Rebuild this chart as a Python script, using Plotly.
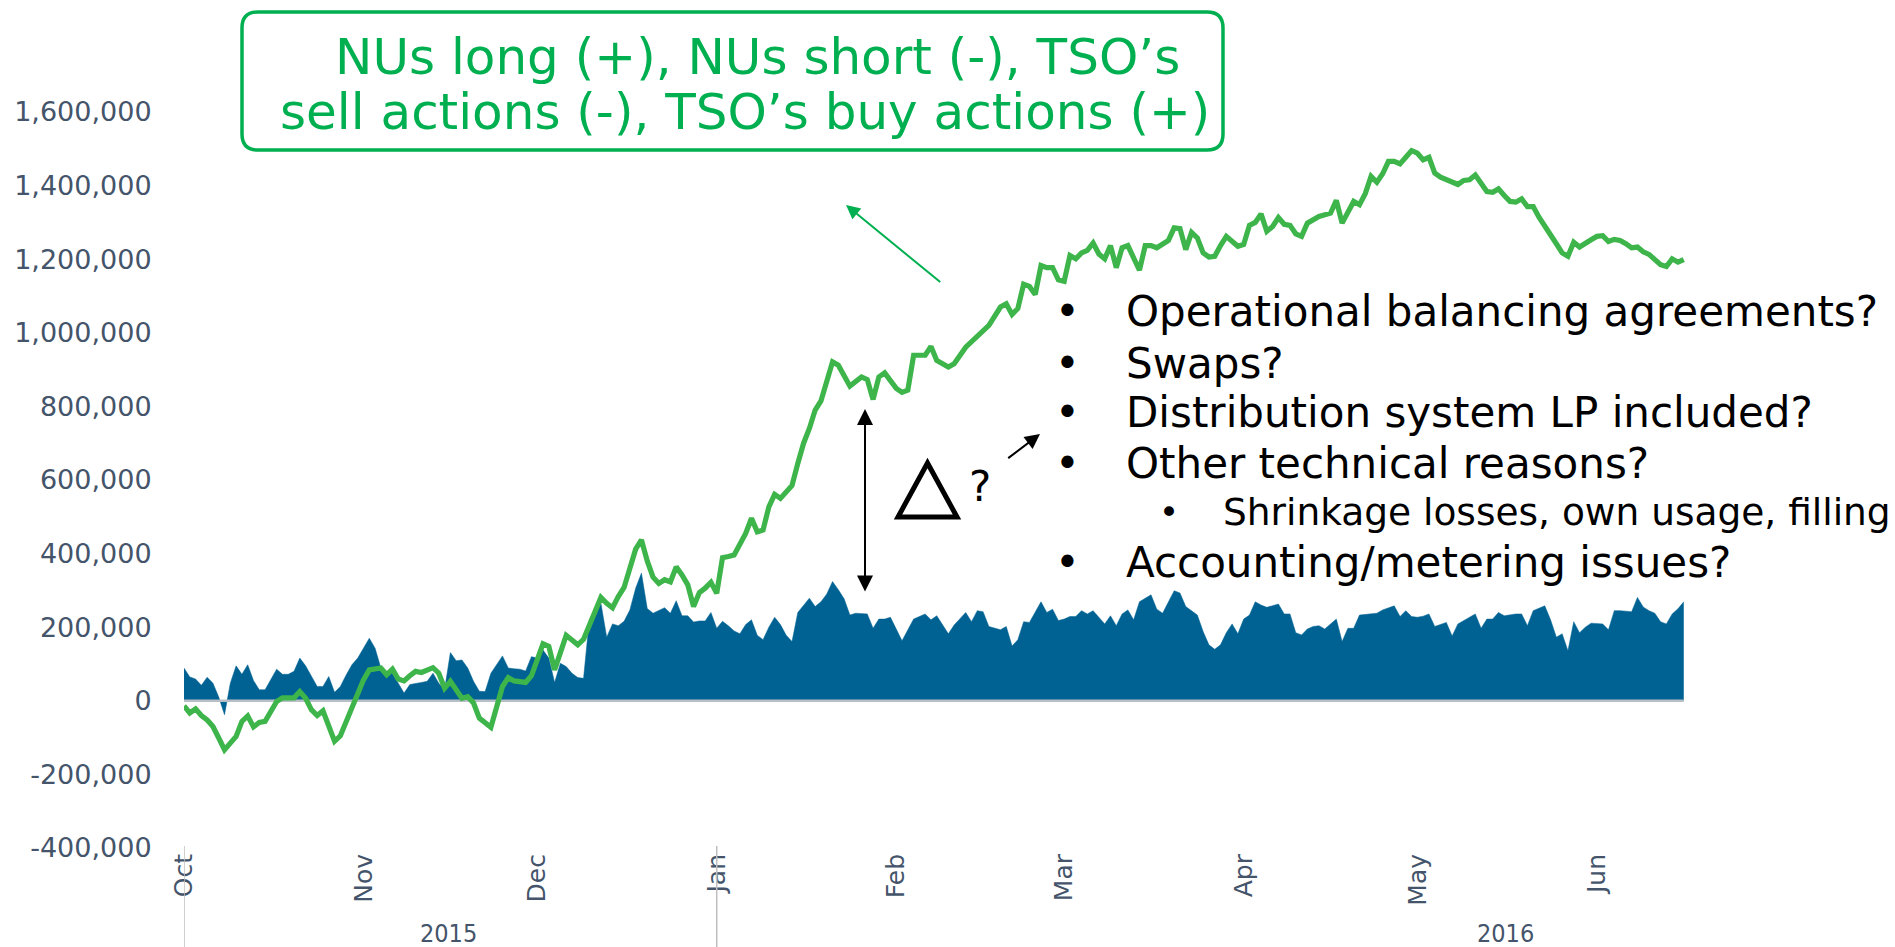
import pandas as pd
import plotly.graph_objects as go

# ---- data: daily balances (thousand units), day offsets from 1 Oct 2015 ----
start_date = pd.Timestamp("2015-10-01")

green_day = [0, 1, 2, 3, 4, 5, 6, 7, 8, 9, 10, 11, 12, 13, 14, 15, 16, 17, 19, 20,
             21, 22, 23, 24, 25, 26, 27, 28, 30, 31, 32, 34, 35, 36, 37, 38, 39, 40, 41, 43,
             44, 45, 46, 47, 48, 49, 50, 51, 53, 55, 56, 57, 59, 60, 61, 62, 63, 64, 66, 68,
             69, 70, 72, 73, 74, 75, 76, 78, 79, 80, 81, 82, 83, 84, 85, 86, 87, 88, 89, 90,
             91, 92, 93, 94, 95, 97, 98, 99, 100, 101, 102, 103, 104, 105, 106, 107, 108, 109, 110, 111,
             112, 113, 115, 117, 118, 119, 120, 121, 123, 124, 125, 126, 128, 129, 130, 132, 133, 135, 136, 138,
             139, 141, 142, 143, 144, 145, 146, 147, 148, 149, 150, 151, 152, 153, 154, 155, 156, 157, 158, 159,
             160, 161, 162, 163, 164, 165, 166, 167, 168, 170, 171, 172, 173, 174, 175, 176, 177, 178, 179, 180,
             182, 183, 184, 185, 186, 187, 188, 189, 190, 191, 192, 193, 194, 195, 196, 198, 199, 200, 201, 202,
             203, 204, 205, 206, 207, 208, 209, 210, 211, 212, 213, 214, 215, 216, 217, 218, 219, 220, 221, 222,
             223, 224, 225, 226, 227, 228, 229, 230, 231, 232, 233, 234, 235, 236, 237, 238, 239, 240, 241, 243,
             244, 245, 246, 247, 248, 249, 250, 251, 252, 253, 254, 255, 256, 257, 258, 259]
green_val = [-14, -33, -22, -40, -52, -70, -101, -133, -115, -97, -56, -41, -71, -59, -56, -29, -2, 8, 8, 25,
             7, -24, -40, -27, -70, -110, -95, -56, 16, 57, 84, 89, 71, 86, 59, 54, 68, 80, 77, 90,
             75, 34, 53, 28, 7, 11, -6, -47, -72, 39, 63, 54, 50, 68, 110, 155, 148, 84, 178, 152,
             167, 205, 281, 265, 253, 283, 308, 412, 437, 380, 336, 319, 329, 323, 364, 342, 315, 256, 294, 306,
             322, 292, 389, 392, 396, 455, 496, 459, 464, 527, 561, 550, 570, 585, 645, 700, 740, 790, 815, 870,
             921, 912, 855, 880, 873, 819, 880, 891, 849, 838, 844, 939, 939, 963, 925, 907, 916, 961, 975, 1002,
             1020, 1070, 1079, 1050, 1066, 1132, 1126, 1104, 1183, 1177, 1177, 1144, 1140, 1210, 1201, 1217, 1224, 1244, 1214, 1201,
             1237, 1177, 1231, 1237, 1204, 1170, 1237, 1237, 1231, 1251, 1285, 1283, 1226, 1273, 1258, 1217, 1206, 1208, 1237, 1262,
             1235, 1240, 1292, 1300, 1323, 1276, 1289, 1313, 1295, 1292, 1269, 1262, 1298, 1307, 1316, 1325, 1360, 1298, 1328, 1357,
             1348, 1378, 1425, 1409, 1432, 1466, 1466, 1459, 1477, 1495, 1488, 1470, 1477, 1434, 1423, 1416, 1410, 1403, 1414, 1416,
             1429, 1405, 1384, 1382, 1391, 1373, 1357, 1355, 1364, 1343, 1343, 1314, 1292, 1269, 1242, 1217, 1208, 1246, 1233, 1253,
             1262, 1264, 1248, 1254, 1251, 1242, 1231, 1233, 1220, 1213, 1199, 1185, 1180, 1201, 1192, 1199]

blue_day = [0, 1, 2, 3, 4, 5, 6, 7, 8, 9, 10, 11, 12, 13, 14, 15, 16, 17, 18, 19,
            20, 21, 22, 23, 24, 25, 26, 27, 28, 29, 30, 31, 32, 33, 34, 35, 36, 37, 38, 39,
            40, 41, 42, 43, 44, 45, 46, 47, 48, 49, 50, 51, 52, 53, 55, 56, 57, 58, 59, 60,
            61, 62, 63, 64, 65, 66, 67, 68, 69, 70, 71, 72, 73, 74, 75, 76, 77, 78, 79, 80,
            81, 82, 83, 84, 85, 86, 87, 88, 89, 90, 91, 92, 93, 94, 95, 96, 97, 98, 99, 100,
            101, 102, 103, 104, 105, 106, 108, 109, 110, 111, 112, 113, 114, 115, 116, 118, 119, 120, 121, 122,
            124, 126, 127, 128, 129, 130, 132, 133, 135, 136, 137, 138, 139, 141, 142, 143, 144, 145, 146, 148,
            149, 150, 151, 152, 153, 154, 155, 156, 157, 159, 160, 161, 162, 163, 164, 165, 167, 168, 169, 170,
            171, 172, 173, 175, 176, 177, 178, 179, 180, 181, 182, 183, 184, 185, 186, 187, 188, 189, 190, 191,
            192, 193, 194, 195, 196, 197, 199, 200, 201, 202, 203, 204, 205, 206, 207, 209, 210, 211, 212, 213,
            214, 215, 216, 218, 219, 220, 223, 224, 225, 226, 227, 228, 230, 231, 232, 233, 235, 236, 237, 238,
            239, 240, 241, 242, 243, 245, 246, 247, 248, 250, 251, 252, 253, 254, 255, 256, 257, 258, 259]
blue_val = [89, 65, 59, 42, 64, 48, 10, -38, 48, 95, 72, 98, 55, 30, 30, 57, 86, 72, 72, 80,
            116, 95, 66, 39, 39, 66, 23, 39, 70, 98, 116, 143, 170, 143, 89, 80, 75, 48, 21, 44,
            46, 50, 53, 75, 48, 30, 131, 109, 111, 89, 53, 26, 25, 75, 122, 89, 87, 86, 81, 120,
            116, 138, 116, 50, 102, 93, 75, 63, 61, 220, 247, 265, 173, 209, 204, 216, 247, 306, 347, 251,
            238, 245, 253, 238, 272, 231, 231, 214, 217, 217, 240, 197, 216, 204, 190, 182, 207, 220, 178, 166,
            200, 227, 207, 178, 161, 240, 279, 256, 269, 290, 324, 302, 277, 233, 238, 236, 197, 222, 222, 227,
            163, 222, 229, 236, 220, 231, 182, 206, 240, 215, 245, 242, 202, 193, 202, 149, 166, 215, 213, 269,
            240, 249, 218, 222, 229, 229, 245, 236, 245, 209, 231, 204, 236, 247, 220, 269, 288, 249, 238, 270,
            299, 293, 256, 233, 188, 152, 140, 152, 185, 209, 182, 222, 233, 269, 260, 254, 258, 263, 236, 236,
            185, 179, 195, 202, 204, 195, 222, 161, 197, 197, 233, 235, 238, 238, 247, 258, 229, 245, 229, 227,
            230, 236, 202, 213, 176, 209, 236, 197, 222, 222, 240, 231, 236, 236, 204, 245, 258, 220, 173, 182,
            136, 215, 185, 200, 211, 209, 193, 245, 245, 242, 281, 255, 245, 238, 215, 209, 236, 250, 269]

month_ticks = ["2015-10-01", "2015-11-01", "2015-12-01", "2016-01-01", "2016-02-01",
               "2016-03-01", "2016-04-01", "2016-05-01", "2016-06-01"]
month_labels = ["Oct", "Nov", "Dec", "Jan", "Feb", "Mar", "Apr", "May", "Jun"]
year_labels = ["2015", "2016"]
year_breaks = ["2015-10-01", "2016-01-01"]

y_tick_vals = [-400000, -200000, 0, 200000, 400000, 600000, 800000,
               1000000, 1200000, 1400000, 1600000]
y_tick_text = ["-400,000", "-200,000", "0", "200,000", "400,000", "600,000", "800,000",
               "1,000,000", "1,200,000", "1,400,000", "1,600,000"]

box_lines = ["NUs long (+), NUs short (-), TSO\u2019s",
             "sell actions (-), TSO\u2019s buy actions (+)"]
bullet_items = ["Operational balancing agreements?", "Swaps?",
                "Distribution system LP included?", "Other technical reasons?",
                "Shrinkage losses, own usage, filling", "Accounting/metering issues?"]
bullet_level = [0, 0, 0, 0, 1, 0]

# ---- styling ----
W, H = 1895, 947
ML, MR, MT, MB = 184, 30, 112, 99
PL, PR, PT, PB = ML, W - MR, MT, H - MB
AXIS_COL = "#44546A"
GREEN_TXT = "#00B050"
GREEN_LINE = "#3DB54A"
BLUE = "#006293"
FONT = "DejaVu Sans"


def px(x):
    return (x - PL) / (PR - PL)


def py(y):
    return (PB - y) / (PB - PT)


green_x = start_date + pd.to_timedelta(green_day, unit="D")
blue_x = start_date + pd.to_timedelta(blue_day, unit="D")
green_y = [v * 1000 for v in green_val]
blue_y = [v * 1000 for v in blue_val]

fig = go.Figure()
fig.add_trace(go.Scatter(x=blue_x, y=blue_y, mode="lines", fill="tozeroy",
                         fillcolor=BLUE, line=dict(color=BLUE, width=0.5),
                         hoverinfo="skip", showlegend=False))
fig.add_trace(go.Scatter(x=[blue_x[0], blue_x[-1]], y=[0, 0], mode="lines",
                         line=dict(color="#B8BEC6", width=2.5),
                         hoverinfo="skip", showlegend=False))
fig.add_trace(go.Scatter(x=green_x, y=green_y, mode="lines",
                         line=dict(color=GREEN_LINE, width=5.2),
                         hoverinfo="skip", showlegend=False))

shapes = []
# year separators below the axis
for d in year_breaks:
    shapes.append(dict(type="line", xref="x", yref="paper", x0=d, x1=d,
                       y0=py(H), y1=py(PB - 2), line=dict(color="#BFBFBF", width=1.5)))

# rounded green box
bx0, bx1, by0, by1, r = 242, 1223, 12, 150, 16
path = (f"M {px(bx0 + r)},{py(by0)} L {px(bx1 - r)},{py(by0)} "
        f"Q {px(bx1)},{py(by0)} {px(bx1)},{py(by0 + r)} "
        f"L {px(bx1)},{py(by1 - r)} Q {px(bx1)},{py(by1)} {px(bx1 - r)},{py(by1)} "
        f"L {px(bx0 + r)},{py(by1)} Q {px(bx0)},{py(by1)} {px(bx0)},{py(by1 - r)} "
        f"L {px(bx0)},{py(by0 + r)} Q {px(bx0)},{py(by0)} {px(bx0 + r)},{py(by0)} Z")
shapes.append(dict(type="path", xref="paper", yref="paper", path=path,
                   line=dict(color=GREEN_TXT, width=3.5)))

# outlined delta triangle
tri = (f"M {px(927.5)},{py(463)} L {px(957)},{py(517)} "
       f"L {px(898)},{py(517)} Z")
shapes.append(dict(type="path", xref="paper", yref="paper", path=tri,
                   line=dict(color="black", width=5)))

annotations = []
# box text
for txt, cx, cy in zip(box_lines, [757, 745], [57, 112]):
    annotations.append(dict(text=txt, xref="paper", yref="paper", x=px(cx), y=py(cy),
                            xanchor="center", yanchor="middle", showarrow=False,
                            font=dict(family=FONT, size=50, color=GREEN_TXT)))

# green arrow pointing to the box
annotations.append(dict(text="", xref="paper", yref="paper", x=px(846), y=py(205),
                        ax=95.7, ay=78.3, showarrow=True, arrowhead=2, arrowsize=1.4,
                        arrowwidth=2, arrowcolor=GREEN_TXT, standoff=0))
# double-headed gap arrow
annotations.append(dict(text="", xref="paper", yref="paper", x=px(865), y=py(409),
                        ax=0, ay=184, showarrow=True, arrowhead=2, arrowside="end+start",
                        arrowsize=1.6, arrowwidth=2, arrowcolor="black",
                        standoff=0, startstandoff=0))
# small arrow towards the list
annotations.append(dict(text="", xref="paper", yref="paper", x=px(1040), y=py(434),
                        ax=-33.3, ay=25.3, showarrow=True, arrowhead=2, arrowsize=1.5,
                        arrowwidth=2, arrowcolor="black", standoff=0))
annotations.append(dict(text="?", xref="paper", yref="paper", x=px(980), y=py(486),
                        xanchor="center", yanchor="middle", showarrow=False,
                        font=dict(family=FONT, size=42, color="black")))

# bullet list
line_y = [311, 363, 412, 463, 512, 562]
for txt, lvl, ly in zip(bullet_items, bullet_level, line_y):
    size = 42 if lvl == 0 else 37.5
    bsize = 42 if lvl == 0 else 34
    bxp = 1067 if lvl == 0 else 1169
    txp = 1124 if lvl == 0 else 1221
    annotations.append(dict(text="\u2022", xref="paper", yref="paper", x=px(bxp), y=py(ly),
                            xanchor="center", yanchor="middle", showarrow=False,
                            font=dict(family=FONT, size=bsize, color="black")))
    annotations.append(dict(text=txt, xref="paper", yref="paper", x=px(txp), y=py(ly),
                            xanchor="left", yanchor="middle", showarrow=False,
                            font=dict(family=FONT, size=size, color="black")))

# year labels
for txt, cx in zip(year_labels, [448, 1505]):
    annotations.append(dict(text=txt, xref="paper", yref="paper", x=px(cx), y=py(933),
                            xanchor="center", yanchor="middle", showarrow=False,
                            font=dict(family="DejaVu Sans Condensed", size=25, color=AXIS_COL)))

fig.update_layout(
    width=W, height=H,
    margin=dict(l=ML, r=MR, t=MT, b=MB, pad=0),
    paper_bgcolor="white", plot_bgcolor="white",
    font=dict(family=FONT, color=AXIS_COL),
    showlegend=False,
    shapes=shapes,
    annotations=annotations,
    xaxis=dict(type="date", range=["2015-10-01", "2016-07-17 07:12"],
               tickmode="array", tickvals=month_ticks, ticktext=month_labels,
               tickangle=-90, showgrid=False, zeroline=False, showline=False,
               ticks="", tickfont=dict(family=FONT, size=25, color=AXIS_COL)),
    yaxis=dict(range=[-400000, 1600000], tickmode="array", tickvals=y_tick_vals,
               ticktext=y_tick_text, showgrid=False, zeroline=False, showline=False,
               ticks="outside", ticklen=26, tickcolor="rgba(0,0,0,0)",
               tickfont=dict(family=FONT, size=27, color=AXIS_COL)),
)

fig.write_html("out.html")
